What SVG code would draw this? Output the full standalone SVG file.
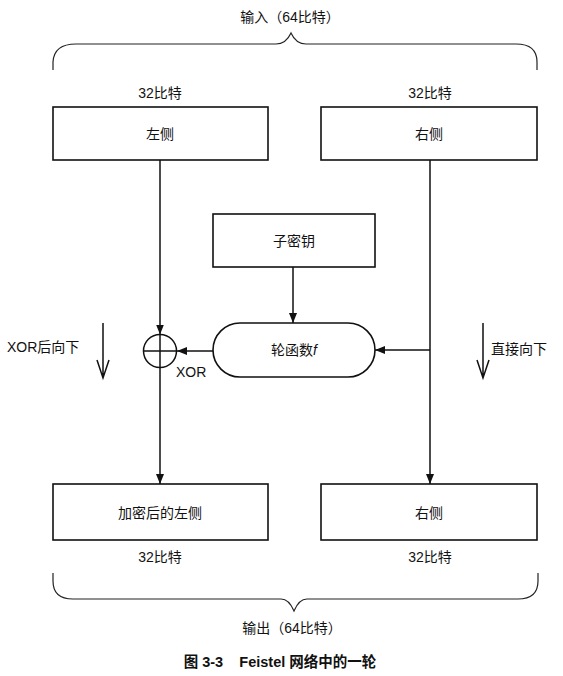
<svg xmlns="http://www.w3.org/2000/svg" width="563" height="676" viewBox="0 0 563 676">
<style>
text{font-family:"Liberation Sans","Noto Sans CJK SC",sans-serif;font-size:14px;fill:#111;}
.c{text-anchor:middle;dominant-baseline:central;}
.box{fill:#fff;stroke:#111;stroke-width:1.6;}
.ln{fill:none;stroke:#111;stroke-width:1.5;}
.br{fill:none;stroke:#222;stroke-width:1.2;}
</style>
<defs>
<marker id="ah" markerWidth="10" markerHeight="14" refX="10" refY="7" orient="auto" markerUnits="userSpaceOnUse">
<path d="M0,3 L10,7 L0,11 Z" fill="#111"/>
</marker>
</defs>
<rect width="563" height="676" fill="#fff"/>

<g id="input-brace">
<path class="br" d="M53,70 L53,62 Q54,44 76,44 L276,44 Q286,44 291,33 Q296,44 306,44 L516,44 Q537,44 537,62 L537,70"/>
<text class="c" x="290" y="17">输入（64比特）</text>
</g>

<g id="left">
<text class="c" x="160" y="93">32比特</text>
<rect class="box" x="53" y="107" width="215" height="53"/>
<text class="c" x="160" y="134">左侧</text>
</g>
<g id="right">
<text class="c" x="430" y="93">32比特</text>
<rect class="box" x="321" y="107" width="216" height="53"/>
<text class="c" x="429" y="134">右侧</text>
</g>

<g id="subkey">
<rect class="box" x="213" y="214" width="162" height="53"/>
<text class="c" x="294" y="241">子密钥</text>
</g>

<g id="f">
<rect class="box" x="213" y="323" width="162" height="54" rx="27" ry="27"/>
<text class="c" x="294" y="350">轮函数<tspan font-style="italic">f</tspan></text>
</g>

<g id="xor">
<circle class="ln" cx="160" cy="351" r="16.5" fill="#fff"/>
<line class="ln" x1="143.5" y1="351" x2="176.5" y2="351"/>
<text x="176" y="377">XOR</text>
</g>

<g id="enc-left">
<rect class="box" x="53" y="484" width="215" height="56"/>
<text class="c" x="160" y="513">加密后的左侧</text>
<text class="c" x="160" y="557">32比特</text>
</g>
<g id="out-right">
<rect class="box" x="321" y="484" width="216" height="56"/>
<text class="c" x="429" y="513">右侧</text>
<text class="c" x="430" y="557">32比特</text>
</g>

<g id="output-brace">
<path class="br" d="M53,573 L53,581 Q53,599 73,599 L281,599 Q289,599 294,611 Q299,599 307,599 L518,599 Q538,599 538,581 L538,573"/>
<text class="c" x="292" y="628">输出（64比特）</text>
</g>

<g id="side-labels">
<text x="7" y="352">XOR后向下</text>
<text x="491" y="354">直接向下</text>
</g>

<g id="connectors">
<line class="ln" x1="160" y1="160" x2="160" y2="334.5" marker-end="url(#ah)"/>
<line class="ln" x1="160" y1="334.5" x2="160" y2="367.5"/>
<line class="ln" x1="160" y1="367.5" x2="160" y2="484" marker-end="url(#ah)"/>
<line class="ln" x1="430" y1="160" x2="430" y2="484" marker-end="url(#ah)"/>
<line class="ln" x1="293" y1="267" x2="293" y2="323" marker-end="url(#ah)"/>
<line class="ln" x1="430" y1="350" x2="375" y2="350" marker-end="url(#ah)"/>
<line class="ln" x1="213" y1="351" x2="177" y2="351" marker-end="url(#ah)"/>
<path class="ln" d="M103,323 L103,378 M97,360 L103,378 L109,360"/>
<path class="ln" d="M483,323 L483,378 M477,360 L483,378 L489,360"/>
</g>

<text class="c" x="280" y="662" xml:space="preserve" style="font-weight:bold;font-size:14.5px">图 3-3    Feistel 网络中的一轮</text>
</svg>
